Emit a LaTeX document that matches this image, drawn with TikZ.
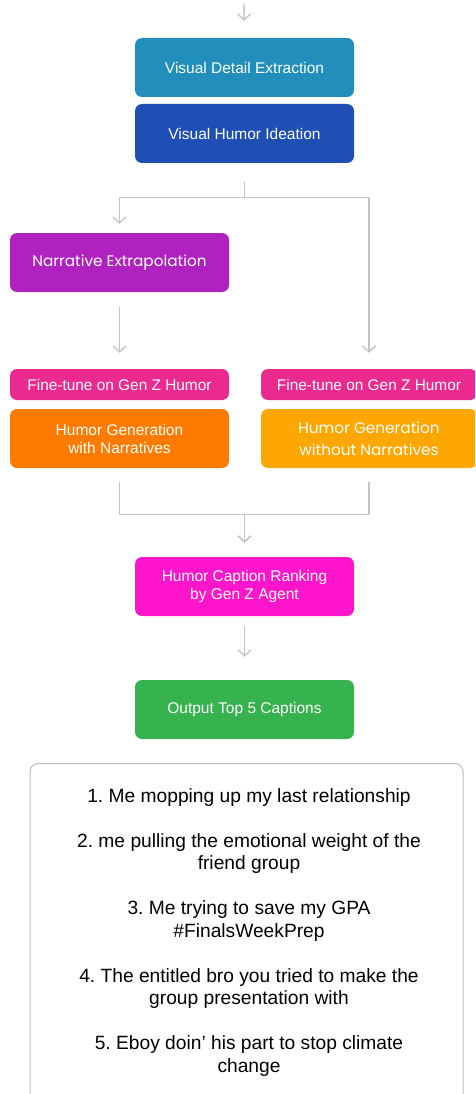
\documentclass[tikz,border=0pt]{standalone}
\usepackage{fontspec}
\setmainfont{Liberation Sans}
\newfontfamily\pop{Poppins}
\usetikzlibrary{arrows.meta}
\definecolor{cVDE}{HTML}{218EBB}
\definecolor{cVHI}{HTML}{1F4EB4}
\definecolor{cNE}{HTML}{AF22C0}
\definecolor{cFT}{HTML}{EB2A8F}
\definecolor{cHGw}{HTML}{FF7B00}
\definecolor{cHGwo}{HTML}{FEA702}
\definecolor{cHCR}{HTML}{FF15CC}
\definecolor{cOUT}{HTML}{36B24F}
\definecolor{linegray}{HTML}{C4C4C4}
\definecolor{boxgray}{HTML}{BDBDBD}
\frenchspacing
\begin{document}
\begin{tikzpicture}[x=1pt,y=-1pt,
  box/.style={rounded corners=7pt, minimum width=219pt, minimum height=59pt, text=white, align=center, inner sep=0pt, font=\fontsize{15.5}{18}\selectfont},
  pbox/.style={box, font=\pop\fontsize{15.3}{22}\selectfont},
  ftbox/.style={box, minimum height=31pt, font=\fontsize{15.4}{17}\selectfont},
  conn/.style={draw=linegray, line width=1.4pt},
  arr/.style={conn, -{Straight Barb[length=6pt,width=13pt]}}]
\useasboundingbox (0,0) rectangle (475,1094);
\clip (0,0) rectangle (475,1094);
\node[box, fill=cVDE] (vde) at (244.5,67.5) {Visual Detail Extraction};
\node[box, fill=cVHI] (vhi) at (244.5,133.5) {Visual Humor Ideation};
\node[pbox, fill=cNE] (ne) at (119.5,262.5) {Narrative Extrapolation};
\node[ftbox, fill=cFT] (ftl) at (119.5,384.5) {Fine-tune on Gen Z Humor};
\node[ftbox, fill=cFT, minimum width=216pt] (ftr) at (369,384.5) {Fine-tune on Gen Z Humor};
\node[box, fill=cHGw] (hgw) at (119.5,438.5) {Humor Generation\\with Narratives};
\node[pbox, fill=cHGwo, minimum width=216pt] (hgwo) at (369,438.5) {Humor Generation\\without Narratives};
\node[box, fill=cHCR] (hcr) at (244.5,586.5) {Humor Caption Ranking\\by Gen Z Agent};
\node[box, fill=cOUT] (out) at (244.5,709.5) {Output Top 5 Captions};
\node[draw=boxgray, line width=1pt, rounded corners=8pt, minimum width=433pt, minimum height=400pt, anchor=north, inner sep=0pt] (capbox) at (246.5,763) {};
\node[anchor=north, align=center, inner sep=0pt, font=\fontsize{19.2}{22.5}\selectfont] (caps) at (249,788) {1. Me mopping up my last relationship\\[22.5pt]
2. me pulling the emotional weight of the\\friend group\\[22.5pt]
3. Me trying to save my GPA\\\#FinalsWeekPrep\\[22.5pt]
4. The entitled bro you tried to make the\\group presentation with\\[22.5pt]
5. Eboy doin’ his part to stop climate\\change};
\coordinate (start) at (244,4);
\draw[arr, shorten >=17pt] (start) -- (vde.north);
\draw[arr, shorten <=18pt, shorten >=9pt] (vhi.south) -- ++(0,34) -| (ne.north);
\draw[arr, shorten <=18pt, shorten >=16pt] (vhi.south) -- ++(0,34) -| (ftr.north);
\draw[arr, shorten <=15pt, shorten >=16pt] (ne.south) -- (ftl.north);
\draw[arr, shorten <=14pt, shorten >=14pt] (hgw.south) -- ++(0,46) -| (hcr.north);
\draw[arr, shorten <=14pt, shorten >=14pt] (hgwo.south) -- ++(0,46) -| (hcr.north);
\draw[arr, shorten <=10pt, shorten >=23pt] (hcr.south) -- (out.north);
\end{tikzpicture}
\end{document}
